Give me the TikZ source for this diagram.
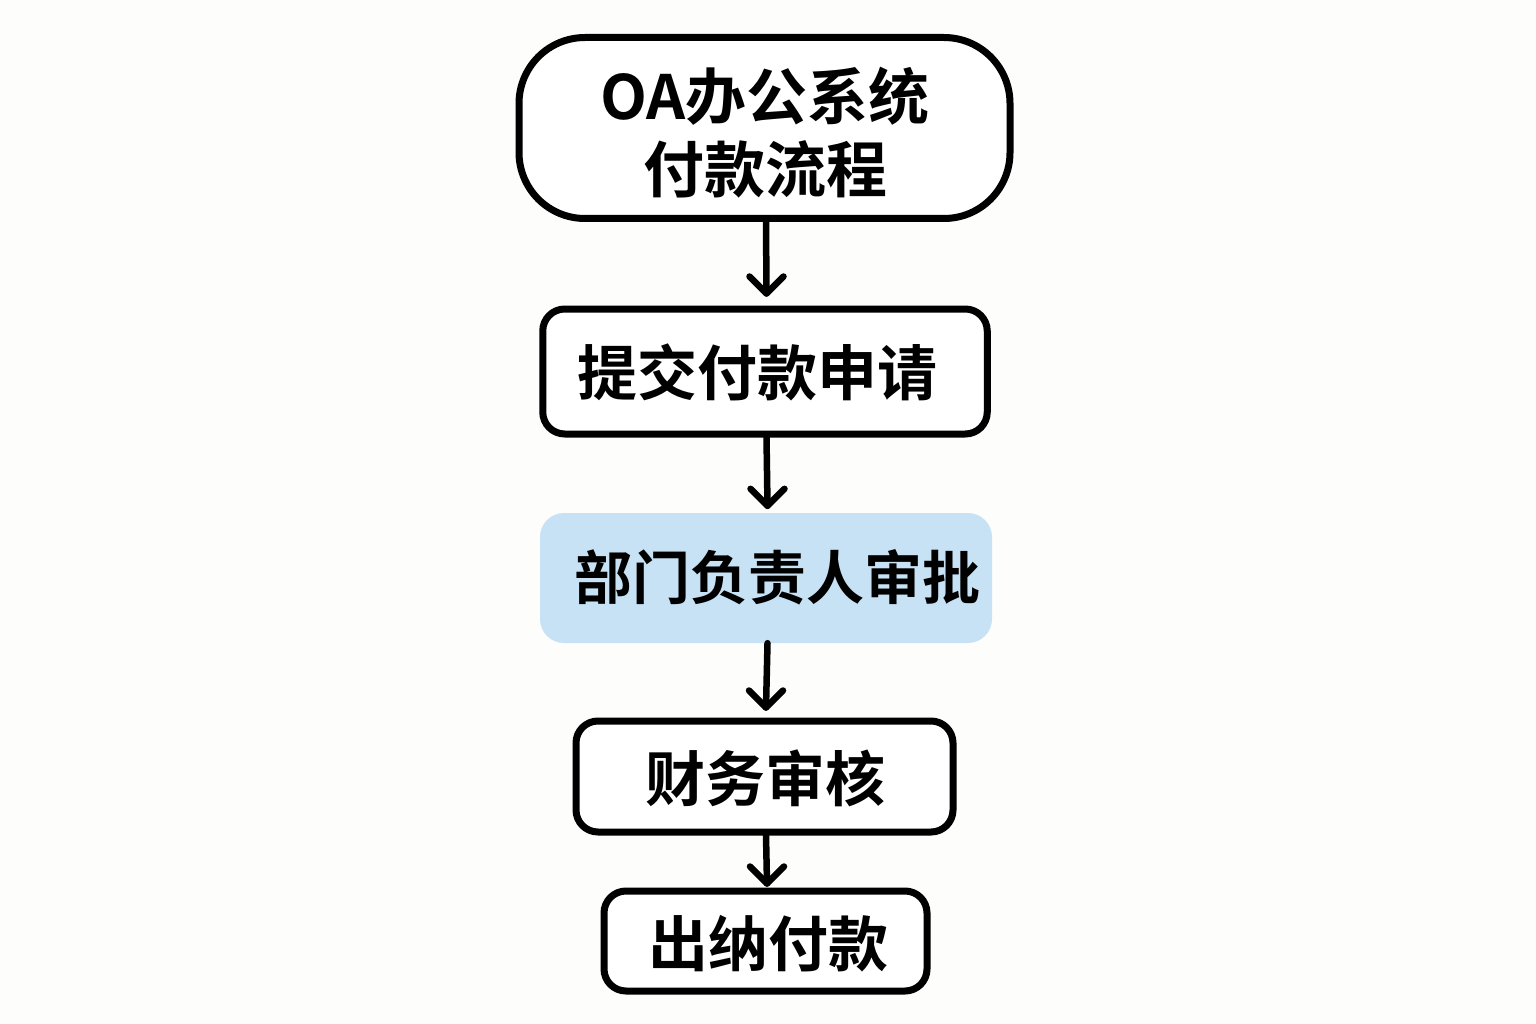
\documentclass[tikz,border=0pt]{standalone}
\usepackage{fontspec}
\newfontfamily\cjk{Noto Sans CJK SC}[BoldFont={Noto Sans CJK SC Bold}]
\definecolor{bgc}{RGB}{253,253,251}
\definecolor{bluefill}{RGB}{200,226,245}
\begin{document}
\begin{tikzpicture}[x=1pt,y=-1pt]
\tikzset{
  box/.style={draw=black,line width=7pt,fill=white,rectangle,rounded corners=22pt,inner sep=0pt},
  lbl/.style={inner sep=0pt,font=\cjk\bfseries\fontsize{60}{73}\selectfont,align=center},
  shaft/.style={draw=black,line width=6.5pt,line cap=round,line join=round},
  head/.style={draw=black,line width=6.5pt,line cap=round,line join=round}}
\fill[bgc] (0,0) rectangle (1536,1024);
\useasboundingbox (0,0) rectangle (1536,1024);
\node[box,rounded corners=66pt,minimum width=491pt,minimum height=181pt] (n1) at (764.5,128) {};
\node[box,minimum width=444.5pt,minimum height=125pt] (n2) at (765,371.5) {};
\node[rectangle,fill=bluefill,rounded corners=24pt,minimum width=452pt,minimum height=130pt,inner sep=0pt] (n3) at (766,578) {};
\node[box,minimum width=377pt,minimum height=111pt] (n4) at (764.5,776.5) {};
\node[box,minimum width=323pt,minimum height=100pt] (n5) at (765.5,941) {};
\node[lbl,font=\cjk\bfseries\fontsize{61}{73}\selectfont] (t1) at (765,133) {OA办公系统\\付款流程};
\node[lbl] (t2) at (757,372) {提交付款申请};
\node[lbl,font=\cjk\bfseries\fontsize{58}{70}\selectfont] (t3) at (777.5,577) {部门负责人审批};
\node[lbl] (t4) at (765,778) {财务审核};
\node[lbl] (t5) at (768,944) {出纳付款};
\foreach \a/\b/\g in {n1/n2/12, n2/n3/7, n3/n4/10, n4/n5/4} {
  \coordinate (tip\a) at ([xshift=1.5pt,yshift=\g pt]\b.north);
  \draw[shaft] ([xshift=1.5pt]\a.south) -- (tip\a);
  \draw[head] ([xshift=-17pt,yshift=17pt]tip\a) -- (tip\a) -- ([xshift=17pt,yshift=17pt]tip\a);
}
\end{tikzpicture}
\end{document}
